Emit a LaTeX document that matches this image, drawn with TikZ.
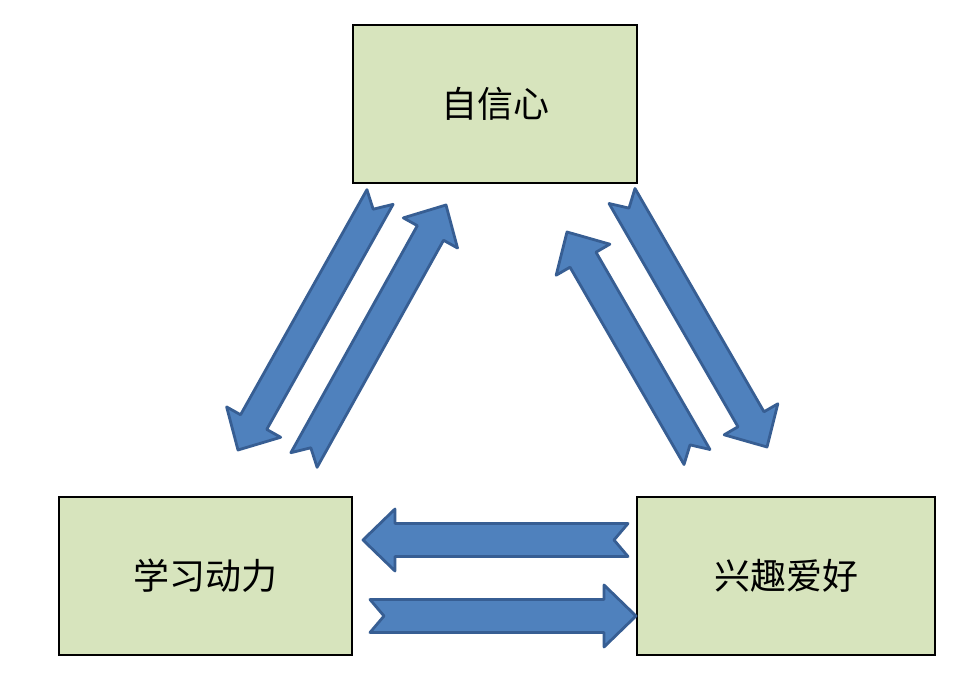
\documentclass[tikz,border=0pt]{standalone}
\usepackage{fontspec}
\newfontfamily\cjk{Noto Sans CJK SC}
\usetikzlibrary{calc}
\definecolor{boxfill}{HTML}{D7E4BD}
\definecolor{arrowfill}{HTML}{4F81BD}
\definecolor{arrowline}{HTML}{375E93}
\tikzset{
  box/.style={draw=black, line width=1.6pt, fill=boxfill, rectangle, inner sep=0pt,
    font=\cjk\fontsize{36}{40}\selectfont},
  barrow/.style={fill=arrowfill, draw=arrowline, line width=2.8pt, line join=round}
}
\newcommand\notcharrow[3]{%
  \coordinate (q) at ($(#2)!32pt!(#1)$);
  \draw[barrow] ($(#1)!#3!90:(#2)$) -- ($(#1)!14pt!(#2)$) -- ($(#1)!#3!-90:(#2)$)
    -- ($(q)!#3!90:(#1)$) -- ($(q)!31pt!90:(#1)$) -- (#2)
    -- ($(q)!31pt!-90:(#1)$) -- ($(q)!#3!-90:(#1)$) -- cycle;}
\begin{document}
\begin{tikzpicture}[x=1pt,y=-1pt]
\useasboundingbox[fill=white] (0,0) rectangle (964,676);
\node[box, minimum width=284pt, minimum height=158pt] (top) at (495,104) {自信心};
\node[box, minimum width=293pt, minimum height=158pt] (left) at (205.5,576) {学习动力};
\node[box, minimum width=298pt, minimum height=158pt] (right) at (786,576) {兴趣爱好};
% left pair
\coordinate (a1) at (380,197); \coordinate (b1) at (238,450);
\coordinate (a2) at (304,460); \coordinate (b2) at (446,205);
% right pair
\coordinate (a3) at (697,457); \coordinate (b3) at (567,232);
\coordinate (a4) at (622,196); \coordinate (b4) at (767,447);
% horizontal pair
\coordinate (a5) at (628,540); \coordinate (b5) at (363,540);
\coordinate (a6) at (370,616); \coordinate (b6) at (636,616);
\notcharrow{a1}{b1}{15pt}
\notcharrow{a2}{b2}{15pt}
\notcharrow{a3}{b3}{15pt}
\notcharrow{a4}{b4}{15pt}
\notcharrow{a5}{b5}{16.5pt}
\notcharrow{a6}{b6}{16.5pt}
\end{tikzpicture}
\end{document}
